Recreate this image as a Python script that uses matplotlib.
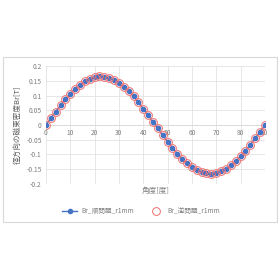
import matplotlib.pyplot as plt
from matplotlib.patches import Rectangle

plt.rcParams['font.family'] = ['Noto Sans CJK JP', 'DejaVu Sans']

# angle [deg] and Br [T]
angle = list(range(0, 92, 2))
br_forward = [0.000, 0.023, 0.045, 0.067, 0.087, 0.106, 0.123, 0.137, 0.148, 0.157,
              0.162, 0.165, 0.164, 0.160, 0.153, 0.143, 0.130, 0.115, 0.097, 0.077,
              0.056, 0.034, 0.011, -0.011, -0.034, -0.056, -0.077, -0.097, -0.115, -0.130,
              -0.143, -0.153, -0.160, -0.164, -0.165, -0.162, -0.157, -0.148, -0.137, -0.123,
              -0.106, -0.087, -0.067, -0.045, -0.023, 0.000]
br_inverse = [0.000, 0.023, 0.045, 0.067, 0.087, 0.106, 0.123, 0.137, 0.148, 0.157,
              0.162, 0.165, 0.164, 0.160, 0.153, 0.143, 0.130, 0.115, 0.097, 0.077,
              0.056, 0.034, 0.011, -0.011, -0.034, -0.056, -0.077, -0.097, -0.115, -0.130,
              -0.143, -0.153, -0.160, -0.164, -0.165, -0.162, -0.157, -0.148, -0.137, -0.123,
              -0.106, -0.087, -0.067, -0.045, -0.023, 0.000]
xticks = list(range(0, 100, 10))
yticks = [-0.2, -0.15, -0.1, -0.05, 0, 0.05, 0.1, 0.15, 0.2]
ytick_labels = ['-0.2', '-0.15', '-0.1', '-0.05', '0', '0.05', '0.1', '0.15', '0.2']

fig = plt.figure(figsize=(2.8, 2.8), dpi=100)
fig.patch.set_facecolor('white')
fig.patches.append(Rectangle((0.011, 0.207), 0.979, 0.589, transform=fig.transFigure,
                             fill=False, edgecolor='#d9d9d9', linewidth=0.8))

ax = fig.add_axes([0.164, 0.343, 0.782, 0.421])
ax.plot(angle, br_forward, color='#4472c4', linewidth=1.0, marker='o',
        markersize=3.0, label='Br_順問題_r1mm', zorder=3)
ax.plot(angle, br_inverse, linestyle='none', marker='o', markersize=5.6,
        markerfacecolor='none', markeredgecolor='#f07070', markeredgewidth=0.7,
        label='Br_逆問題_r1mm', zorder=4)

ax.set_xlim(0, 90)
ax.set_ylim(-0.2, 0.2)
ax.set_xticks(xticks)
ax.set_yticks(yticks)
ax.set_yticklabels(ytick_labels)
ax.grid(True, color='#e3e3e3', linewidth=0.6)
ax.set_axisbelow(True)
for s in ['top', 'right', 'left']:
    ax.spines[s].set_visible(False)
ax.spines['bottom'].set_position(('data', 0))
ax.spines['bottom'].set_color('#d9d9d9')
ax.spines['bottom'].set_linewidth(0.6)
ax.tick_params(length=0, labelsize=4.8, labelcolor='#7f7f7f', pad=3)

ax.set_ylabel('径方向の磁束密度Br[T]', fontsize=5.5, color='#595959', labelpad=3)
fig.text(0.555, 0.318, '角度[度]', fontsize=5.5, color='#7f7f7f', ha='center', va='center')

ax.legend(loc='center', bbox_to_anchor=(0.505, 0.246), bbox_transform=fig.transFigure,
          ncol=2, frameon=False, fontsize=4.8, labelcolor='#7f7f7f',
          handlelength=2.2, columnspacing=2.3, handletextpad=0.6)

fig.savefig('out.png', dpi=100)
